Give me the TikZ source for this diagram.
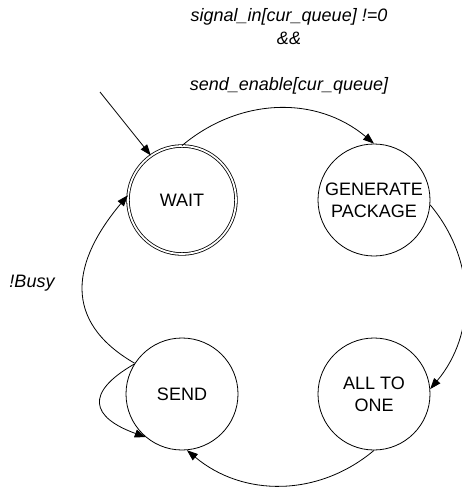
\documentclass[tikz,border=0pt]{standalone}
\usepackage{fontspec}
\setmainfont{Liberation Sans}
\usepackage{tikz}
\usetikzlibrary{arrows.meta, positioning}

\tikzset{
    state/.style={circle, draw, minimum size=112pt, inner sep=0pt, align=center},
    startstate/.style={state, double, double distance=1.8pt, minimum size=108pt},
    cond/.style={font=\fontsize{18}{23}\selectfont\itshape, align=center}
}

\begin{document}
\begin{tikzpicture}[x=1pt, y=-1pt, line width=0.8pt, font=\fontsize{18}{22}\selectfont, >={Triangle[length=11pt, width=8pt]}]
        \useasboundingbox (0,0) rectangle (461,492);

        % States
        \node[startstate] (wait) at (182,200) {WAIT};
        \node[state] (gen) at (374,200) {GENERATE\\PACKAGE};
        \node[state] (send) at (182,394) {SEND};
        \node[state] (allone) at (374,394) {ALL TO\\ONE};

        % Entry
        \coordinate (entry) at (100,92);
        \draw[->] (entry) -- (wait.125);

        % Transitions
        \draw[->] (wait.90) to[out=40, in=140] (gen.90);
        \draw[->] (gen.-5) to[out=-50, in=50] (allone.5);
        \draw[->] (allone.-90) to[out=-140, in=-40] (send.-85);
        \draw[->] (send.147) to[out=150, in=230, looseness=1.3] (wait.175);
        \draw[->] (send.148) to[out=210, in=160, looseness=2] (send.230);

        % Conditions
        \node[cond] (sigcond) at (289,51) {signal\_in[cur\_queue] !=0\\\&\&\\\mbox{}\\send\_enable[cur\_queue]};
        \node[cond] (busy) at (32,283) {!Busy};
\end{tikzpicture}
\end{document}
